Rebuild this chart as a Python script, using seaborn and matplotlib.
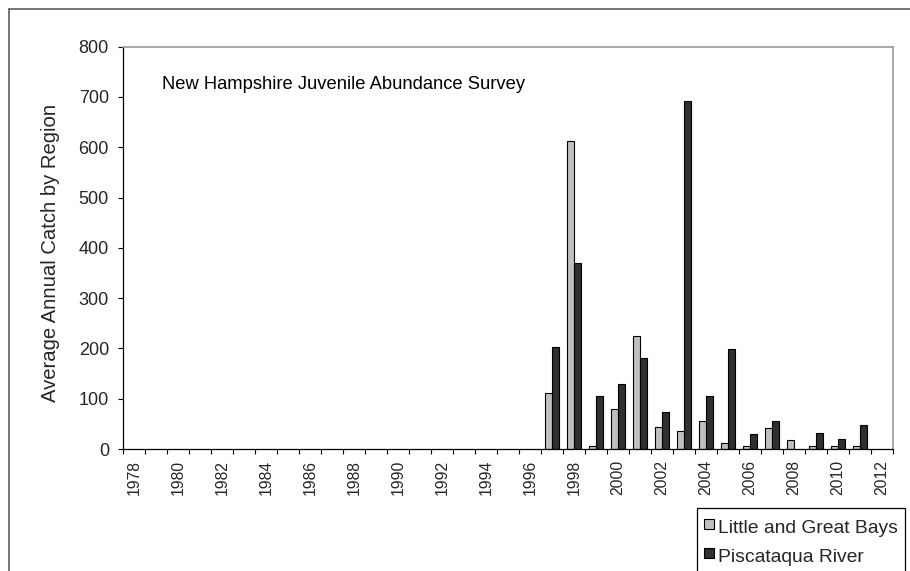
import numpy as np
import pandas as pd
import matplotlib
matplotlib.use("Agg")
import matplotlib.pyplot as plt
from matplotlib.lines import Line2D
import seaborn as sns

# ---- data ----  (nan = no bar shown for that year)
years = list(range(1978, 2013))
nan = np.nan
little_great_bays = [nan] * 19 + [111, 612, 5, 79, 225, 44, 35, 56, 12, 5, 41, 18, 5, 5, 5, nan]
piscataqua_river = [nan] * 19 + [202, 369, 105, 129, 181, 74, 693, 105, 199, 29, 56, nan, 32, 20, 47, nan]
series_names = ["Little and Great Bays", "Piscataqua River"]
series_colors = ["#C0C0C0", "#303030"]
y_ticks = [0, 100, 200, 300, 400, 500, 600, 700, 800]
title_text = "New Hampshire Juvenile Abundance Survey"
y_label = "Average Annual Catch by Region"

df = pd.DataFrame({
    "Year": [str(y) for y in years] * 2,
    "Catch": little_great_bays + piscataqua_river,
    "Region": [series_names[0]] * len(years) + [series_names[1]] * len(years),
})

sns.set_theme(style="white")
plt.rcParams["font.family"] = ["Liberation Sans", "DejaVu Sans"]

W, H = 910, 571
fig = plt.figure(figsize=(W / 100, H / 100), dpi=100)
ax = fig.add_axes([123 / W, 1 - 449 / H, 770 / W, (449 - 46.7) / H])

sns.barplot(
    data=df, x="Year", y="Catch", hue="Region",
    order=[str(y) for y in years], hue_order=series_names,
    palette=dict(zip(series_names, series_colors)),
    width=0.64, edgecolor="black", linewidth=0.8, saturation=1,
    ax=ax, legend=False,
)

n = len(years)
ax.set_xlim(-0.5, n - 0.5)
ax.set_ylim(0, 800)
ax.set_yticks(y_ticks)
ax.set_yticklabels([str(v) for v in y_ticks], fontsize=13)

# category labels at centers (every other year), tick marks at boundaries
ax.set_xticks(range(n))
ax.set_xticklabels([str(y) if (y - years[0]) % 2 == 0 else "" for y in years],
                   rotation=90, fontsize=11.3)
ax.set_xticks(np.arange(n + 1) - 0.5, minor=True)
ax.tick_params(axis="x", which="major", length=0, pad=8)
ax.tick_params(axis="x", which="minor", length=3.6, width=0.8, color="black",
               direction="out", bottom=True)
ax.tick_params(axis="y", which="major", length=3.6, width=0.8, color="black",
               direction="out", left=True, pad=6.5)

ax.set_xlabel("")
ax.set_ylabel(y_label, fontsize=14.6)
ax.yaxis.set_label_coords(-0.0818, 0.487)

for side in ["left", "bottom"]:
    ax.spines[side].set_color("black")
    ax.spines[side].set_linewidth(0.9)
for side in ["top", "right"]:
    ax.spines[side].set_color("#9A9A9A")
    ax.spines[side].set_linewidth(1.2)
ax.grid(False)

# chart title inside plot area
fig.text(162.3 / W, 1 - 89.3 / H, title_text, fontsize=13.2, ha="left",
         va="baseline", color="black")

# legend (partly cut off by figure edge as in the reference)
handles = [Line2D([], [], marker="s", linestyle="none", markersize=7.2,
                  markerfacecolor=c, markeredgecolor="black", markeredgewidth=0.8)
           for c in series_colors]
ax.legend(handles, series_names, loc="upper left",
          bbox_to_anchor=(696.7 / W, 1 - 508.3 / H), bbox_transform=fig.transFigure,
          borderaxespad=0, frameon=True, fancybox=False, edgecolor="black",
          fontsize=13.9, handlelength=0.53, handleheight=1.42, handletextpad=0.22,
          borderpad=0.36, labelspacing=0.33, framealpha=1)
ax.get_legend().get_frame().set_linewidth(0.9)

# outer chart border (left and top visible)
bx, by = 8.7 / W, 1 - 9 / H
fig.add_artist(Line2D([bx, bx], [0, by], transform=fig.transFigure,
                      color="#505050", linewidth=1.1))
fig.add_artist(Line2D([bx, 1.0], [by, by], transform=fig.transFigure,
                      color="#505050", linewidth=1.1))

fig.savefig("out.png", dpi=100, facecolor="white")
